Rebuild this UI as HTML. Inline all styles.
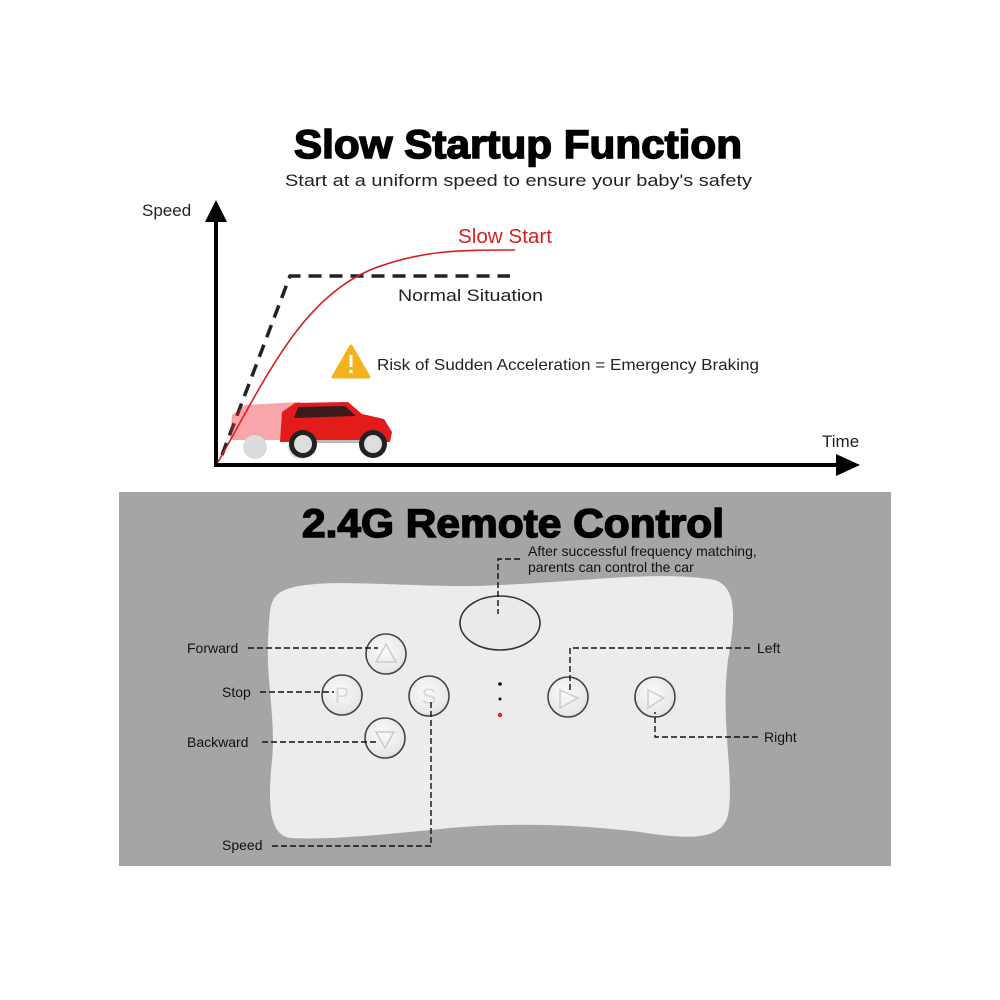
<!DOCTYPE html>
<html><head><meta charset="utf-8"><style>html,body{margin:0;padding:0;background:#fff}svg{display:block}</style></head>
<body>
<svg width="1000" height="1000" viewBox="0 0 1000 1000" xmlns="http://www.w3.org/2000/svg" font-family="Liberation Sans, sans-serif">
<defs>
<radialGradient id="btn" cx="0.45" cy="0.4" r="0.7"><stop offset="0" stop-color="#fafafa"/><stop offset="0.75" stop-color="#e8e8e8"/><stop offset="1" stop-color="#c8c8c8"/></radialGradient>
</defs>
<rect width="1000" height="1000" fill="#fff"/>
<text x="294" y="158" font-size="40" font-weight="bold" textLength="448" lengthAdjust="spacingAndGlyphs" stroke="#000" stroke-width="1.5">Slow Startup Function</text>
<text x="285" y="186" font-size="17" textLength="467" lengthAdjust="spacingAndGlyphs" fill="#222">Start at a uniform speed to ensure your baby's safety</text>
<text x="142" y="216" font-size="17" fill="#222">Speed</text>
<text x="822" y="447" font-size="17" fill="#222">Time</text>
<line x1="216" y1="220" x2="216" y2="466" stroke="#000" stroke-width="4"/>
<polygon points="216,200 205,222 227,222" fill="#000"/>
<line x1="214" y1="465" x2="840" y2="465" stroke="#000" stroke-width="4"/>
<polygon points="860,465 836,454 836,476" fill="#000"/>
<polyline points="222,455 290,276 510,276" fill="none" stroke="#222" stroke-width="3.5" stroke-dasharray="13,8"/>
<text x="398" y="301" font-size="17" fill="#222" textLength="145" lengthAdjust="spacingAndGlyphs">Normal Situation</text>
<path d="M218,462 C265,380 300,300 370,270 C420,250 460,250 515,250" fill="none" stroke="#d42020" stroke-width="1.6"/>
<text x="458" y="243" font-size="20" fill="#d42020" textLength="94" lengthAdjust="spacingAndGlyphs">Slow Start</text>
<polygon points="351,346 333,377 369,377" fill="#f6b21b" stroke="#f6b21b" stroke-width="3" stroke-linejoin="round"/>
<rect x="349.5" y="355" width="3" height="12" fill="#fff"/><rect x="349.5" y="370" width="3" height="3" fill="#fff"/>
<text x="377" y="370" font-size="16" fill="#222" textLength="382" lengthAdjust="spacingAndGlyphs">Risk of Sudden Acceleration = Emergency Braking</text>
<!-- car -->
<g opacity="0.4"><path d="M230,440 L232,415 L245,405 L300,402 L310,412 L320,440 Z" fill="#e23"/><circle cx="255" cy="447" r="12" fill="#aaa"/><circle cx="300" cy="447" r="12" fill="#aaa"/></g>
<path d="M280,442 L282,412 L295,403 L348,402 L362,414 L384,419 L392,432 L390,442 Z" fill="#e41b1b"/>
<path d="M298,407 L345,406 L356,416 L294,418 Z" fill="#3a1a1a"/>
<rect x="290" y="440" width="95" height="3" fill="#bbb"/>
<circle cx="303" cy="444" r="14" fill="#222"/><circle cx="303" cy="444" r="9" fill="#ddd"/>
<circle cx="373" cy="444" r="14" fill="#222"/><circle cx="373" cy="444" r="9" fill="#ddd"/>
<!-- gray panel -->
<rect x="119" y="492" width="772" height="374" fill="#a5a5a5"/>
<text x="302" y="537" font-size="40" font-weight="bold" textLength="422" lengthAdjust="spacingAndGlyphs" stroke="#000" stroke-width="1.5">2.4G Remote Control</text>
<text x="528" y="556" font-size="14" fill="#111">After successful frequency matching,</text>
<text x="528" y="572" font-size="14" fill="#111">parents can control the car</text>
<path d="M285,590 C320,575 420,590 500,585 C580,582 660,570 715,580 C738,588 735,620 728,660 C720,720 735,780 728,815 C722,840 690,840 640,832 C580,825 520,822 450,828 C380,835 330,840 290,838 C268,835 268,800 272,760 C276,720 266,680 268,640 C270,610 268,597 285,590 Z" fill="#ececec"/>
<ellipse cx="500" cy="623" rx="40" ry="27" fill="#eaeaea" stroke="#333" stroke-width="1.6"/>
<g stroke="#444" stroke-width="1.6" fill="url(#btn)">
<circle cx="386" cy="654" r="20"/><circle cx="342" cy="695" r="20"/><circle cx="429" cy="696" r="20"/>
<circle cx="385" cy="738" r="20"/><circle cx="568" cy="697" r="20"/><circle cx="655" cy="697" r="20"/>
</g>
<g fill="none" stroke="#ccc" stroke-width="1.5">
<polygon points="386,644 376,662 396,662"/><polygon points="376,732 394,732 385,748"/>
<polygon points="560,690 578,698 560,708"/><polygon points="648,690 664,698 648,708"/>
</g>
<text x="342" y="703" font-size="22" fill="#d8d8d8" text-anchor="middle">P</text>
<text x="429" y="704" font-size="22" fill="#d8d8d8" text-anchor="middle">S</text>
<circle cx="500" cy="684" r="1.8" fill="#111"/><circle cx="500" cy="699" r="1.5" fill="#111"/><circle cx="500" cy="715" r="2.2" fill="#e22"/>
<g fill="none" stroke="#111" stroke-width="1.4" stroke-dasharray="6,3">
<polyline points="520,559 498,559 498,614"/>
<line x1="248" y1="648" x2="378" y2="648"/>
<line x1="260" y1="692" x2="334" y2="692"/>
<line x1="262" y1="742" x2="376" y2="742"/>
<polyline points="272,846 431,846 431,702"/>
<polyline points="750,648 570,648 570,690"/>
<polyline points="758,737 655,737 655,712"/>
</g>
<text x="187" y="653" font-size="14" fill="#111">Forward</text>
<text x="222" y="697" font-size="14" fill="#111">Stop</text>
<text x="187" y="747" font-size="14" fill="#111">Backward</text>
<text x="222" y="850" font-size="14" fill="#111">Speed</text>
<text x="757" y="653" font-size="14" fill="#111">Left</text>
<text x="764" y="742" font-size="14" fill="#111">Right</text>
</svg>
</body></html>
